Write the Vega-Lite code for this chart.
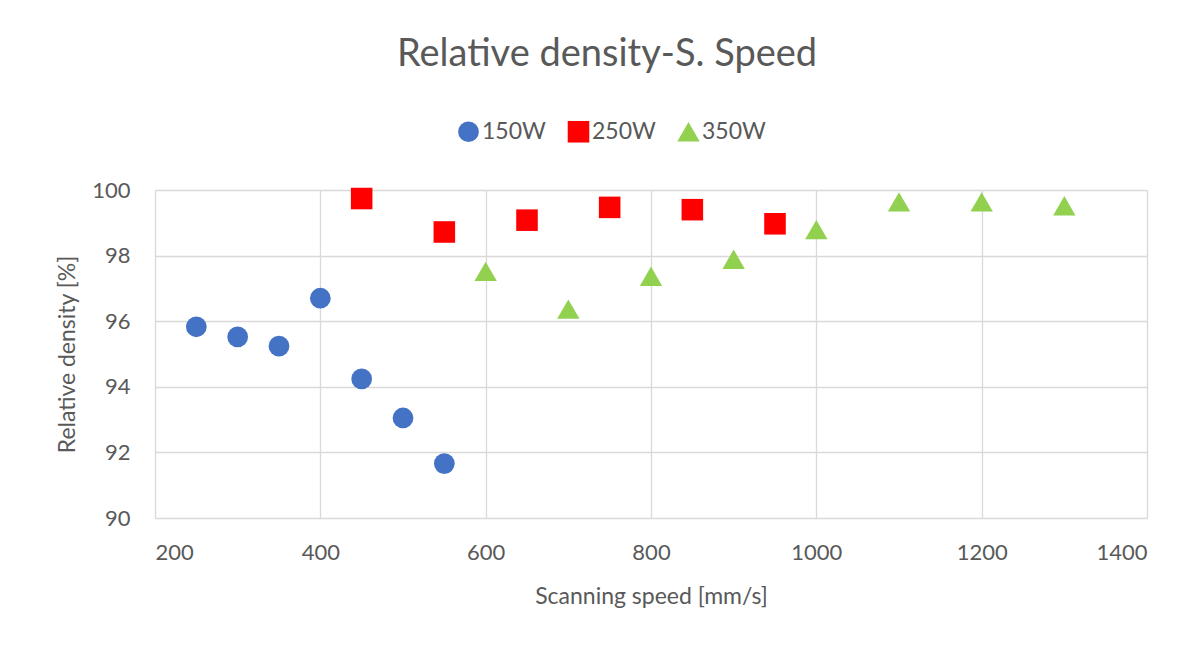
{
  "$schema": "https://vega.github.io/schema/vega-lite/v6.json",
  "autosize": {"type": "none"},
  "width": 992,
  "height": 328,
  "padding": {"left": 155, "top": 190, "right": 51, "bottom": 127},
  "background": "white",
  "title": {
    "text": "Relative density-S. Speed",
    "font": "Lato",
    "fontSize": 38,
    "fontWeight": "normal",
    "color": "#595959",
    "anchor": "middle",
    "dx": -44,
    "offset": 46,
    "limit": 0
  },
  "data": {
    "values": [
      {"speed": 250, "density": 95.83, "power": "150W"},
      {"speed": 300, "density": 95.52, "power": "150W"},
      {"speed": 350, "density": 95.24, "power": "150W"},
      {"speed": 400, "density": 96.70, "power": "150W"},
      {"speed": 450, "density": 94.24, "power": "150W"},
      {"speed": 500, "density": 93.05, "power": "150W"},
      {"speed": 550, "density": 91.66, "power": "150W"},
      {"speed": 450, "density": 99.74, "power": "250W"},
      {"speed": 550, "density": 98.72, "power": "250W"},
      {"speed": 650, "density": 99.08, "power": "250W"},
      {"speed": 750, "density": 99.47, "power": "250W"},
      {"speed": 850, "density": 99.40, "power": "250W"},
      {"speed": 950, "density": 98.97, "power": "250W"},
      {"speed": 600, "density": 97.52, "power": "350W"},
      {"speed": 700, "density": 96.37, "power": "350W"},
      {"speed": 800, "density": 97.37, "power": "350W"},
      {"speed": 900, "density": 97.89, "power": "350W"},
      {"speed": 1000, "density": 98.79, "power": "350W"},
      {"speed": 1100, "density": 99.64, "power": "350W"},
      {"speed": 1200, "density": 99.64, "power": "350W"},
      {"speed": 1300, "density": 99.52, "power": "350W"}
    ]
  },
  "mark": {"type": "point", "filled": true, "opacity": 1, "strokeWidth": 0},
  "encoding": {
    "x": {
      "field": "speed",
      "type": "quantitative",
      "scale": {"domain": [200, 1400], "nice": false, "zero": false},
      "axis": {
        "title": "Scanning speed [mm/s]",
        "values": [200, 400, 600, 800, 1000, 1200, 1400],
        "format": "d",
        "labelPadding": 24,
        "titlePadding": 22
      }
    },
    "y": {
      "field": "density",
      "type": "quantitative",
      "scale": {"domain": [90, 100], "nice": false, "zero": false},
      "axis": {
        "title": "Relative density [%]",
        "values": [90, 92, 94, 96, 98, 100],
        "labelPadding": 25,
        "titlePadding": 12
      }
    },
    "color": {
      "field": "power",
      "type": "nominal",
      "scale": {"domain": ["150W", "250W", "350W"], "range": ["#4472C4", "#FF0000", "#92D050"]},
      "legend": {
        "title": null,
        "orient": "none",
        "direction": "horizontal",
        "legendX": 302,
        "legendY": -70
      }
    },
    "shape": {
      "field": "power",
      "type": "nominal",
      "scale": {"domain": ["150W", "250W", "350W"], "range": ["circle", "square", "triangle-up"]},
      "legend": {
        "title": null,
        "orient": "none",
        "direction": "horizontal",
        "legendX": 302,
        "legendY": -70
      }
    },
    "size": {
      "field": "power",
      "type": "nominal",
      "scale": {"domain": ["150W", "250W", "350W"], "range": [430, 500, 460]},
      "legend": null
    }
  },
  "config": {
    "view": {"stroke": null},
    "font": "Lato",
    "axis": {
      "domain": false,
      "ticks": false,
      "grid": true,
      "gridColor": "#d9d9d9",
      "gridWidth": 1.3,
      "labelFont": "Lato",
      "labelFontSize": 22,
      "labelColor": "#595959",
      "titleFont": "Lato",
      "titleFontSize": 23,
      "titleFontWeight": "normal",
      "titleColor": "#595959"
    },
    "legend": {
      "labelFont": "Lato",
      "labelFontSize": 23,
      "labelColor": "#595959",
      "symbolSize": 240,
      "symbolStrokeWidth": 0,
      "symbolOpacity": 1,
      "labelOffset": 2,
      "columnPadding": 21
    }
  }
}
